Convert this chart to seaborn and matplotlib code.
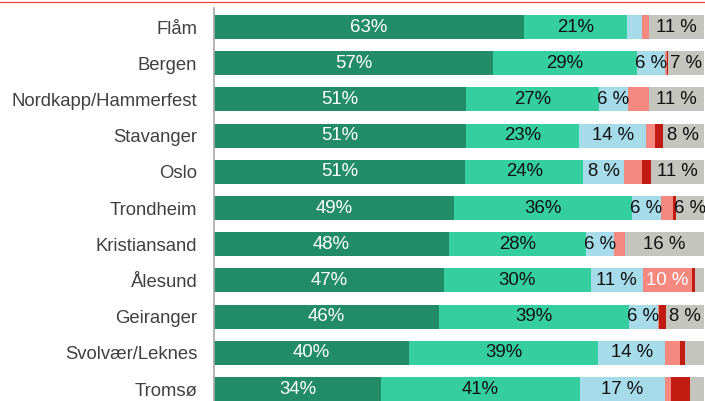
import numpy as np
import pandas as pd
import matplotlib
matplotlib.use('Agg')
import matplotlib.pyplot as plt
import seaborn as sns
from matplotlib.lines import Line2D

# Share of answers per destination (percent)
cities = ['Flåm', 'Bergen', 'Nordkapp/Hammerfest', 'Stavanger', 'Oslo', 'Trondheim',
          'Kristiansand', 'Ålesund', 'Geiranger', 'Svolvær/Leknes', 'Tromsø']
dark_green = [63.3, 56.9, 51.4, 51.4, 51.3, 49.0, 48.0, 46.9, 45.9, 39.8, 34.1]
teal = [21.0, 29.4, 27.1, 23.1, 24.1, 36.3, 28.0, 30.0, 38.8, 38.6, 40.6]
light_blue = [3.1, 5.7, 5.9, 13.7, 8.2, 5.9, 5.7, 10.6, 5.9, 13.7, 17.3]
salmon = [1.4, 0.4, 4.3, 1.8, 3.7, 2.4, 2.2, 10.0, 0.3, 3.0, 1.2]
dark_red = [0.0, 0.3, 0.0, 1.6, 1.8, 0.6, 0.0, 0.6, 1.4, 1.0, 3.9]
gray = [11.2, 7.3, 11.3, 8.4, 10.9, 5.8, 16.1, 1.9, 7.7, 3.9, 2.9]

series = [dark_green, teal, light_blue, salmon, dark_red, gray]
colors = ['#228C69', '#35CF9F', '#A6DCEA', '#F5897F', '#C21B11', '#C5C5C0']
text_colors = ['white', '#111111', '#111111', 'white', '#111111', '#111111']
fmts = ['{:.0f}%', '{:.0f}%', '{:.0f} %', '{:.0f} %', '{:.0f} %', '{:.0f} %']

sns.set_style('white')
plt.rcParams['font.family'] = ['Liberation Sans', 'DejaVu Sans']

fig = plt.figure(figsize=(7.05, 4.01), dpi=100)
ax = fig.add_axes([214 / 705, 0.0, 490 / 705, 1 - 8 / 401])

values = np.array(series)
cum = values.cumsum(axis=0)

# draw cumulative totals from the widest down, so each layer covers the next
for i in reversed(range(len(series))):
    df = pd.DataFrame({'city': cities, 'total': cum[i]})
    sns.barplot(data=df, x='total', y='city', color=colors[i], saturation=1,
                width=0.66, orient='h', ax=ax, linewidth=0)

for i in range(len(series)):
    for j in range(len(cities)):
        v = values[i, j]
        if v >= 5:
            ax.text(cum[i, j] - v / 2, j, fmts[i].format(v), ha='center', va='center',
                    color=text_colors[i], fontsize=13.4)

ax.set_xlim(0, 100)
ax.set_ylim(10.33, -0.525)
ax.set_xlabel('')
ax.set_ylabel('')
ax.set_xticks([])
ax.tick_params(axis='y', length=0, pad=12, labelsize=13.3, labelcolor='#404040')
for s in ['top', 'right', 'bottom']:
    ax.spines[s].set_visible(False)
ax.spines['left'].set_color('#A8A8A8')
ax.spines['left'].set_linewidth(1.2)

fig.add_artist(Line2D([0, 1], [1 - 2 / 401, 1 - 2 / 401], color='#E8413C',
                      linewidth=0.9, transform=fig.transFigure))

fig.savefig('out.png', dpi=100)
plt.close()
